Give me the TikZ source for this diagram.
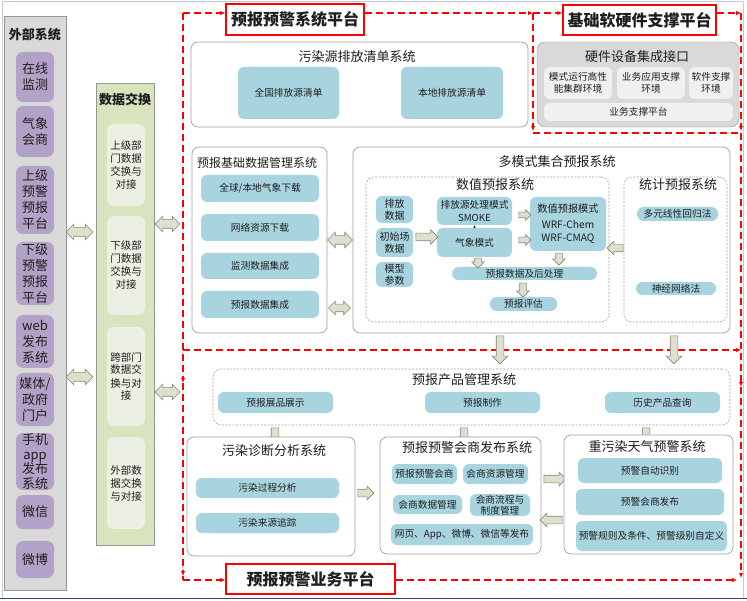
\documentclass[tikz,border=0pt]{standalone}
\usepackage{fontspec}
\setmainfont{Noto Sans CJK SC}
\usetikzlibrary{shapes.arrows,arrows.meta}

\definecolor{panelgray}{RGB}{217,217,217}
\definecolor{panelline}{RGB}{150,150,150}
\definecolor{purp}{RGB}{179,162,199}
\definecolor{greenpanel}{RGB}{215,228,189}
\definecolor{greenitem}{RGB}{236,240,228}
\definecolor{itemblue}{RGB}{168,212,224}
\definecolor{hwcellfill}{RGB}{240,240,240}
\definecolor{boxline}{RGB}{160,160,160}
\definecolor{arrowfill}{RGB}{221,224,204}
\definecolor{arrowline}{RGB}{135,135,120}
\definecolor{txt}{RGB}{30,30,30}
\definecolor{frameblue}{RGB}{190,205,222}
\definecolor{framedark}{RGB}{45,70,105}

\begin{document}
\begin{tikzpicture}[
  x=1pt, y=-1pt,
  every node/.style={text=txt},
  sysbox/.style={draw=boxline, fill=white, rounded corners=7pt, line width=0.7pt, inner sep=0pt},
  subbox/.style={draw=boxline, dash pattern=on 2pt off 1.5pt, rounded corners=8pt, line width=0.6pt, inner sep=0pt},
  title/.style={font=\fontsize{13}{15}\selectfont, inner sep=0pt},
  head/.style={font=\fontsize{13}{15}\selectfont\bfseries, inner sep=0pt},
  item/.style={fill=itemblue, rounded corners=6pt, align=center, inner sep=0pt, font=\fontsize{9.7}{12}\selectfont},
  pill/.style={item, rounded corners=6.5pt},
  side/.style={fill=purp, rounded corners=7pt, align=center, inner sep=0pt, minimum width=38pt, font=\fontsize{13}{16}\selectfont},
  xchg/.style={fill=greenitem, rounded corners=7pt, align=center, inner sep=0pt, minimum width=38pt, font=\fontsize{10.5}{13}\selectfont},
  hwcell/.style={fill=hwcellfill, rounded corners=6pt, align=center, inner sep=0pt, font=\fontsize{9.7}{12}\selectfont},
  platform/.style={draw=red, line width=1.3pt, fill=white, font=\fontsize{16}{18}\selectfont\bfseries, inner sep=0pt},
  reddash/.style={red, line width=1.1pt, dash pattern=on 7pt off 4pt, -{Latex[length=5pt,width=4.5pt]}},
  % shaft = text height, head sticks out by the extend
  fatarrow/.style={single arrow, draw=arrowline, fill=arrowfill, line width=0.6pt, inner sep=0pt,
    text height=7pt, text depth=0pt, single arrow head extend=4pt},
  fatdouble/.style={double arrow, draw=arrowline, fill=arrowfill, line width=0.6pt, inner sep=0pt,
    text height=8pt, text depth=0pt, double arrow head extend=3.5pt}
]
  \useasboundingbox (0,0) rectangle (747,601);

  % screenshot frame
  \draw[frameblue, line width=0.8pt] (2,598) -- (2,1) -- (743,1) -- (743,598);
  \draw[framedark, line width=1.6pt] (0,598.5) -- (747,598.5);

  % external systems
  \node[draw=panelline, fill=panelgray, minimum width=62pt, minimum height=574pt, inner sep=0pt] (ext) at (35,303) {};
  \node[head] (extT) at (35,35) {外部系统};
  \node[side, minimum height=50pt] (zxjc) at (35,77) {在线\\监测};
  \node[side, minimum height=51pt] (qxhs) at (35,131.5) {气象\\会商};
  \node[side, minimum height=68pt] (sjpt) at (35,200) {上级\\预警\\预报\\平台};
  \node[side, minimum height=63pt] (xjpt) at (35,273.5) {下级\\预警\\预报\\平台};
  \node[side, minimum height=53pt] (webfb) at (35,341.5) {web\\发布\\系统};
  \node[side, minimum height=53pt] (mtmh) at (35,399.5) {媒体/\\政府\\门户};
  \node[side, minimum height=57pt, font=\fontsize{13}{14.5}\selectfont] (appfb) at (35,461.5) {手机\\app\\发布\\系统};
  \node[side, minimum height=34pt] (wx) at (35,512) {微信};
  \node[side, minimum height=37pt] (wb) at (35,559.5) {微博};

  % data exchange
  \node[draw=panelline, fill=greenpanel, minimum width=58pt, minimum height=462pt, inner sep=0pt] (dx) at (125,314) {};
  \node[head] (dxT) at (125,100) {数据交换};
  \node[xchg, minimum height=82pt] (dx1) at (126,165) {上级部\\门数据\\交换与\\对接};
  \node[xchg, minimum height=99pt] (dx2) at (126,265.5) {下级部\\门数据\\交换与\\对接};
  \node[xchg, minimum height=99pt] (dx3) at (126,376.5) {跨部门\\数据交\\换与对\\接};
  \node[xchg, minimum height=92pt] (dx4) at (126,483) {外部数\\据交换\\与对接};

  \node[fatdouble, minimum height=27pt] (ed1) at (79.5,232) {};
  \node[fatdouble, minimum height=27pt] (ed2) at (79.5,377) {};
  \node[fatdouble, minimum height=25pt] (dp1) at (167.5,224) {};
  \node[fatdouble, minimum height=25pt] (dp2) at (167.5,392) {};

  % platform labels
  \node[platform, minimum width=138pt, minimum height=31pt] (lbl1) at (295,19.5) {预报预警系统平台};
  \node[platform, minimum width=153pt, minimum height=30pt] (lbl2) at (639.5,20) {基础软硬件支撑平台};
  \node[platform, minimum width=169pt, minimum height=30pt] (lbl3) at (310.5,579) {预报预警业务平台};

  % dashed platform frames
  \coordinate (tl) at (183,13);
  \coordinate (tm) at (533,13);
  \coordinate (tr) at (741,13);
  \coordinate (hb) at (533,133);
  \coordinate (hr) at (741,133);
  \coordinate (ml) at (183,350);
  \coordinate (mr) at (741,350);
  \coordinate (bl) at (183,580);
  \draw[reddash] (tl) -- (lbl1.west |- tl);
  \draw[reddash] (lbl1.east |- tl) -- (tm);
  \draw[reddash] (tm) -- (533,131);
  \draw[reddash] (tm) -- (lbl2.west |- tm);
  \draw[reddash] (lbl2.east |- tm) -- (tr);
  \draw[reddash] (tr) -- (741,131);
  \draw[reddash, -] (hb) -- (hr);
  \draw[reddash] (tl) -- (183,383);
  \draw[reddash] (ml) -- (mr);
  \draw[reddash] (hr) -- (741,387);
  \draw[reddash] (183,383) -- (183,576);
  \draw[reddash] (741,387) -- (741,578);
  \draw[reddash, -] (183,576) -- (bl);
  \draw[reddash] (bl) -- (lbl3.west |- bl);
  \draw[reddash] (lbl3.east |- bl) -- (737,580);

  % emission inventory
  \node[sysbox, minimum width=337pt, minimum height=85pt] (wrqd) at (359.5,84.5) {};
  \node[title] (wrqdT) at (357,57) {污染源排放清单系统};
  \node[item, minimum width=101pt, minimum height=52pt] (qgqd) at (288.5,93) {全国排放源清单};
  \node[item, minimum width=102pt, minimum height=52pt] (bdqd) at (452,93) {本地排放源清单};

  % hardware
  \node[draw=panelline, fill=panelgray, rounded corners=8pt, minimum width=202pt, minimum height=85pt, inner sep=0pt] (hw) at (638,84.5) {};
  \node[title] (hwT) at (637,57) {硬件设备集成接口};
  \node[hwcell, minimum width=68pt, minimum height=32pt] (hw1) at (578,83) {模式运行高性\\能集群环境};
  \node[hwcell, minimum width=68pt, minimum height=32pt] (hw2) at (651,83) {业务应用支撑\\环境};
  \node[hwcell, minimum width=44pt, minimum height=32pt] (hw3) at (711,83) {软件支撑\\环境};
  \node[hwcell, minimum width=189pt, minimum height=18pt] (hw4) at (638.5,112) {业务支撑平台};

  % basic data management
  \node[sysbox, minimum width=135pt, minimum height=186pt] (jc) at (259.5,240) {};
  \node[title, font=\fontsize{12}{14}\selectfont] (jcT) at (257,163) {预报基础数据管理系统};
  \node[item, minimum width=118pt, minimum height=27pt] (jc1) at (260,188.5) {全球/本地气象下载};
  \node[item, minimum width=118pt, minimum height=27pt] (jc2) at (260,227.5) {网络资源下载};
  \node[item, minimum width=118pt, minimum height=26pt] (jc3) at (260,266) {监测数据集成};
  \node[item, minimum width=118pt, minimum height=27pt] (jc4) at (260,304.5) {预报数据集成};

  \node[fatdouble, minimum height=25pt] (jd1) at (340,240) {};
  \node[fatdouble, minimum height=22pt, text height=7pt, double arrow head extend=3pt] (jd2) at (339.5,308) {};

  % multi-model ensemble
  \node[sysbox, minimum width=377pt, minimum height=186pt] (dms) at (541.5,240) {};
  \node[title] (dmsT) at (557,162) {多模式集合预报系统};

  \node[subbox, minimum width=243pt, minimum height=145pt] (szyb) at (487.5,249.5) {};
  \node[title] (szybT) at (495,185) {数值预报系统};
  \node[item, minimum width=37pt, minimum height=27pt, font=\fontsize{10}{12.5}\selectfont] (pfsj) at (394.5,209.5) {排放\\数据};
  \node[item, minimum width=37pt, minimum height=29pt, font=\fontsize{10}{12.5}\selectfont] (cscsj) at (394.5,242.5) {初始场\\数据};
  \node[item, minimum width=37pt, minimum height=25pt, font=\fontsize{10}{12.5}\selectfont] (mxcs) at (394.5,274.5) {模型\\参数};
  \node[item, minimum width=75pt, minimum height=28pt, font=\fontsize{9.7}{13}\selectfont] (smoke) at (474.5,211) {排放源处理模式\\SMOKE};
  \node[item, minimum width=75pt, minimum height=29pt] (qxms) at (474.5,242.5) {气象模式};
  \node[item, minimum width=76pt, minimum height=54pt, font=\fontsize{10.2}{13}\selectfont] (szms) at (568,224) {数值预报模式\\[3pt]WRF-Chem\\WRF-CMAQ};
  \node[pill, minimum width=145pt, minimum height=13pt] (hcl) at (524.5,273.5) {预报数据及后处理};
  \node[pill, minimum width=67pt, minimum height=14pt] (pg) at (523.5,304) {预报评估};

  \node[fatarrow, minimum height=22pt, single arrow head extend=3.5pt] (a1) at (425,237) {};
  \node[fatarrow, minimum height=12pt, text height=5pt, single arrow head extend=2.5pt] (a2) at (523.5,215) {};
  \node[fatarrow, minimum height=12pt, text height=5pt, single arrow head extend=2.5pt] (a3) at (523.5,240) {};
  \node[fatarrow, rotate=-90, minimum height=10pt, text height=6pt, single arrow head extend=3pt] (a4) at (478,261.5) {};
  \node[fatarrow, rotate=-90, minimum height=12pt, text height=6pt, single arrow head extend=3pt] (a5) at (559,257.5) {};
  \node[fatarrow, rotate=-90, minimum height=14pt, text height=6pt, single arrow head extend=3pt] (a6) at (523,288.5) {};
  \draw[-{Latex[length=2.5pt,width=2.5pt]}, txt] (qxms.north) -- (smoke.south);

  % statistical forecast
  \node[subbox, minimum width=103pt, minimum height=145pt] (tj) at (675.5,249.5) {};
  \node[title] (tjT) at (678,185) {统计预报系统};
  \node[pill, minimum width=81pt, minimum height=14pt] (dyhg) at (677.5,214) {多元线性回归法};
  \node[pill, minimum width=80pt, minimum height=13pt] (sjwl) at (676,288.5) {神经网络法};
  \node[fatarrow, rotate=180, minimum height=16pt, single arrow head extend=3pt] (a7) at (617,248) {};

  % down into product management
  \node[fatarrow, rotate=-90, minimum height=28pt] (dc1) at (500,348) {};
  \node[fatarrow, rotate=-90, minimum height=28pt] (dc2) at (674,348) {};

  % product management
  \node[subbox, minimum width=517pt, minimum height=56pt] (cp) at (471.5,397) {};
  \node[title] (cpT) at (464,380) {预报产品管理系统};
  \node[item, minimum width=115pt, minimum height=21pt] (cp1) at (275.5,402.5) {预报展品展示};
  \node[item, minimum width=115pt, minimum height=21pt] (cp2) at (482.5,402.5) {预报制作};
  \node[item, minimum width=115pt, minimum height=21pt] (cp3) at (662.5,402.5) {历史产品查询};

  \node[fatarrow, rotate=-90, minimum height=17pt] (cd1) at (275,434.5) {};
  \node[fatarrow, rotate=-90, minimum height=17pt] (cd2) at (464,434.5) {};
  \node[fatarrow, rotate=-90, minimum height=17pt] (cd3) at (646,434.5) {};

  % pollution diagnosis
  \node[sysbox, minimum width=168pt, minimum height=119pt] (zd) at (271,496.5) {};
  \node[title] (zdT) at (274,451) {污染诊断分析系统};
  \node[item, minimum width=143pt, minimum height=20pt] (zd1) at (267.5,488) {污染过程分析};
  \node[item, minimum width=143pt, minimum height=20pt] (zd2) at (267.5,523) {污染来源追踪};
  \node[fatarrow, minimum height=16pt, single arrow head extend=3pt] (b1) at (364,493) {};

  % consultation and release
  \node[sysbox, minimum width=161pt, minimum height=117pt] (hs) at (460.5,495.5) {};
  \node[title] (hsT) at (467,448) {预报预警会商发布系统};
  \node[item, minimum width=65pt, minimum height=20pt] (hs1) at (424.5,474) {预报预警会商};
  \node[item, minimum width=65pt, minimum height=20pt] (hs2) at (495.5,474) {会商资源管理};
  \node[item, minimum width=69pt, minimum height=19pt] (hs3) at (427.5,504.5) {会商数据管理};
  \node[item, minimum width=60pt, minimum height=22pt, font=\fontsize{9.7}{11}\selectfont] (hs4) at (500,505) {会商流程与\\制度管理};
  \node[item, minimum width=142pt, minimum height=21pt] (hs5) at (462,534.5) {网页、App、微博、微信等发布};
  \node[fatarrow, minimum height=22pt, single arrow head extend=3pt] (b2) at (553,479) {};
  \node[fatarrow, rotate=180, minimum height=22pt, single arrow head extend=3pt] (b3) at (553,520) {};

  % heavy pollution warning
  \node[sysbox, minimum width=169pt, minimum height=119pt] (zw) at (648.5,494.5) {};
  \node[title] (zwT) at (647,447) {重污染天气预警系统};
  \node[item, minimum width=144pt, minimum height=25pt] (zw1) at (650,470.5) {预警自动识别};
  \node[item, minimum width=148pt, minimum height=26pt] (zw2) at (650,502) {预警会商发布};
  \node[item, minimum width=151pt, minimum height=30pt] (zw3) at (651.5,536) {预警规则及条件、预警级别自定义};

\end{tikzpicture}
\end{document}
